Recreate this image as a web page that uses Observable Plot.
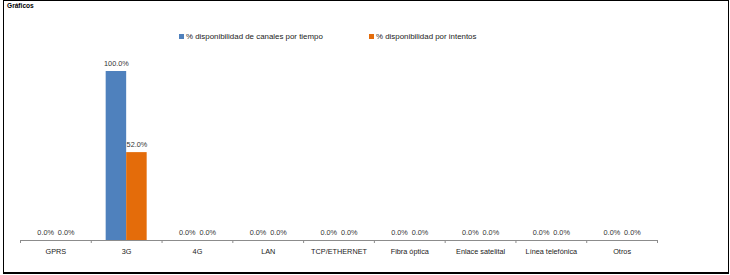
<!DOCTYPE html>
<html>
<head>
<meta charset="utf-8">
<script src="https://cdn.jsdelivr.net/npm/d3@7"></script>
<script src="https://cdn.jsdelivr.net/npm/@observablehq/plot@0.6"></script>
<style>
  html, body { margin: 0; padding: 0; background: #fff; }
  #wrap { position: relative; width: 730px; height: 275px; overflow: hidden; font-family: "Liberation Sans", Arial, sans-serif; }
  #frame { position: absolute; left: 3px; top: 0px; width: 724px; height: 271px; border-left: 1px solid #000; border-right: 1px solid #000; border-top: 1px solid #000; border-bottom: 2.5px solid #000; box-sizing: content-box; pointer-events: none; }
  #title { position: absolute; left: 7px; top: 2px; font-size: 6.6px; font-weight: bold; color: #000; }
  .leg { position: absolute; top: 32px; font-size: 7.9px; color: #222; white-space: nowrap; display: flex; align-items: center; }
  .sw { display: inline-block; width: 5px; height: 5px; margin-right: 2px; }
  #chart { position: absolute; left: 0; top: 0; }
</style>
</head>
<body>
<div id="wrap">
  <div id="chart"></div>
  <div id="frame"></div>
  <div id="title">Gráficos</div>
  <div id="legend"></div>
</div>
<script>
const categories = ["GPRS", "3G", "4G", "LAN", "TCP/ETHERNET", "Fibra óptica", "Enlace satelital", "Línea telefónica", "Otros"];
const seriesNames = ["% disponibilidad de canales por tiempo", "% disponibilidad por intentos"];
const seriesColors = ["#4F81BD", "#E46C0A"];
const porTiempo = [0, 1.00, 0, 0, 0, 0, 0, 0, 0];
const porIntentos = [0, 0.52, 0, 0, 0, 0, 0, 0, 0];

const W = 730, H = 275;
const mL = 20, mR = 73, mT = 71, mB = 35;
const bw = (W - mL - mR) / categories.length;
const barW = 20.5;

const rows = [];
categories.forEach((c, i) => {
  rows.push({cat: c, series: seriesNames[0], value: porTiempo[i], k: 0});
  rows.push({cat: c, series: seriesNames[1], value: porIntentos[i], k: 1});
});
const s0 = rows.filter(d => d.k === 0);
const s1 = rows.filter(d => d.k === 1);
const fmt = d3.format(".1%");
const txt = {fontSize: 7.3, fill: "#333", fontFamily: "Liberation Sans, Arial, sans-serif"};

const plot = Plot.plot({
  width: W, height: H,
  marginLeft: mL, marginRight: mR, marginTop: mT, marginBottom: mB,
  x: {domain: categories, padding: 0, round: false},
  y: {domain: [0, 1], axis: null},
  style: {fontFamily: "Liberation Sans, Arial, sans-serif", background: "transparent"},
  marks: [
    Plot.barY(s0, {x: "cat", y: "value", fill: seriesColors[0], insetLeft: bw / 2 - barW, insetRight: bw / 2}),
    Plot.barY(s1, {x: "cat", y: "value", fill: seriesColors[1], insetLeft: bw / 2, insetRight: bw / 2 - barW}),
    Plot.text(s0, {x: "cat", y: "value", text: d => fmt(d.value), dx: -barW / 2, dy: -7.5, ...txt}),
    Plot.text(s1, {x: "cat", y: "value", text: d => fmt(d.value), dx: barW / 2, dy: -7.5, ...txt}),
    Plot.ruleY([0], {stroke: "#8c8c8c", strokeWidth: 1}),
    Plot.ruleX(categories, {x: d => d, dx: -bw / 2, y1: 0, y2: 0, insetBottom: -3, stroke: "#8c8c8c"}),
    Plot.ruleX(categories.slice(-1), {x: d => d, dx: bw / 2, y1: 0, y2: 0, insetBottom: -3, stroke: "#8c8c8c"}),
    Plot.axisX({tickSize: 0, tickPadding: 8, fontSize: 7.3, fill: "#222", label: null})
  ]
});
document.getElementById("chart").appendChild(plot);

const leg = document.getElementById("legend");
const legX = [179, 369];
seriesNames.forEach((n, i) => {
  const el = document.createElement("div");
  el.className = "leg";
  el.style.left = legX[i] + "px";
  el.innerHTML = `<span class="sw" style="background:${seriesColors[i]}"></span><span>${n}</span>`;
  leg.appendChild(el);
});
</script>
</body>
</html>
